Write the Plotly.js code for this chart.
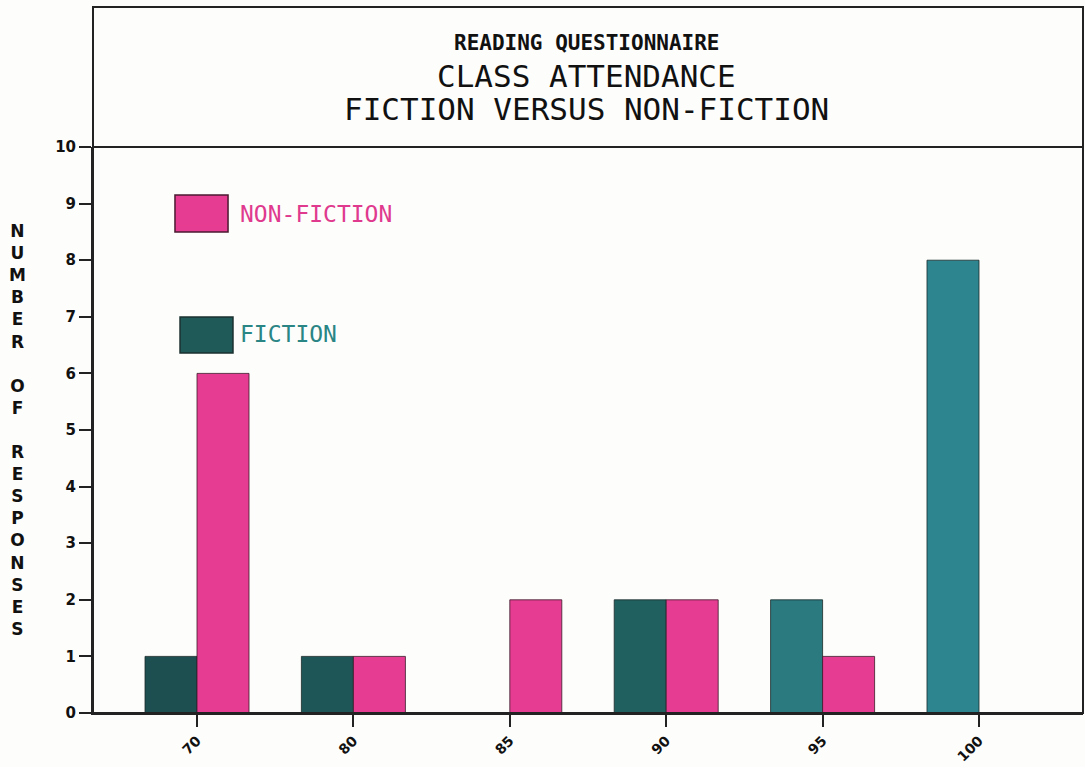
<!DOCTYPE html>
<html>
<head>
<meta charset="utf-8">
<script src="https://cdn.plot.ly/plotly-3.0.1.min.js"></script>
<style>html,body{margin:0;padding:0;background:#fdfdfb;}#chart{width:1085px;height:767px;}</style>
</head>
<body>
<div id="chart"></div>
<script>
const categories = ["70", "80", "85", "90", "95", "100"];
const fiction = [1, 1, 0, 2, 2, 8];
const nonFiction = [6, 1, 2, 2, 1, 0];
const yTicks = [0, 1, 2, 3, 4, 5, 6, 7, 8, 9, 10];
const titleLines = ["READING QUESTIONNAIRE", "CLASS ATTENDANCE", "FICTION VERSUS NON-FICTION"];
const yTitle = "NUMBER OF RESPONSES";

const fictionColors = ["#1d4f51", "#1e5557", "#1f5c5e", "#20605f", "#2a7a80", "#2d8590"];
const pink = "#e63d92";
const mono = "DejaVu Sans Mono, Liberation Mono, monospace";

const traces = [
  {type: "bar", name: "FICTION", x: categories, y: fiction,
   marker: {color: fictionColors, line: {color: "#1a2a2a", width: 0.8}}},
  {type: "bar", name: "NON-FICTION", x: categories, y: nonFiction,
   marker: {color: pink, line: {color: "#3a1a2a", width: 0.8}}}
];

const layout = {
  width: 1085, height: 767,
  margin: {l: 93, r: 2, t: 147, b: 54},
  paper_bgcolor: "#fdfdfb", plot_bgcolor: "#fdfdfb",
  showlegend: false,
  barmode: "group", bargap: 0.335, bargroupgap: 0,
  xaxis: {
    type: "category", range: [-0.665, 5.665],
    showgrid: false, zeroline: false, showline: true, linecolor: "#222", linewidth: 2,
    ticks: "outside", ticklen: 12, tickcolor: "#222", tickwidth: 2,
    tickangle: -45,
    tickfont: {family: "DejaVu Sans, sans-serif", size: 14, color: "#111", weight: "bold"}
  },
  yaxis: {
    range: [0, 10], tickvals: yTicks, ticktext: yTicks.map(String),
    showgrid: false, zeroline: false, showline: true, linecolor: "#222", linewidth: 2,
    ticks: "outside", ticklen: 12, tickcolor: "#222", tickwidth: 2,
    tickfont: {family: "DejaVu Sans, sans-serif", size: 15, color: "#111", weight: "bold"}
  },
  shapes: [
    {type: "rect", xref: "paper", yref: "paper", x0: 0, x1: 1, y0: 0, y1: 1.2474,
     line: {color: "#222", width: 2}, fillcolor: "rgba(0,0,0,0)"},
    {type: "line", xref: "paper", yref: "paper", x0: 0, x1: 1, y0: 1, y1: 1,
     line: {color: "#222", width: 2}},
    {type: "rect", xref: "paper", yref: "paper", x0: 0.0828, x1: 0.1364, y0: 0.850, y1: 0.915,
     line: {color: "#4a1a30", width: 1.5}, fillcolor: pink},
    {type: "rect", xref: "paper", yref: "paper", x0: 0.0879, x1: 0.1414, y0: 0.636, y1: 0.6996,
     line: {color: "#1a3030", width: 1.5}, fillcolor: "#1f5a58"}
  ],
  annotations: [
    {xref: "paper", yref: "paper", x: 0.4985, y: 1.184, text: titleLines[0], showarrow: false,
     xanchor: "center", yanchor: "middle",
     font: {family: mono, size: 21, color: "#111", weight: "bold"}},
    {xref: "paper", yref: "paper", x: 0.4985, y: 1.1254, text: titleLines[1], showarrow: false,
     xanchor: "center", yanchor: "middle",
     font: {family: mono, size: 31, color: "#111"}},
    {xref: "paper", yref: "paper", x: 0.4985, y: 1.0671, text: titleLines[2], showarrow: false,
     xanchor: "center", yanchor: "middle",
     font: {family: mono, size: 31, color: "#111"}},
    {xref: "paper", yref: "paper", x: 0.1465, y: 0.882, text: "NON-FICTION", showarrow: false,
     xanchor: "left", yanchor: "middle",
     font: {family: mono, size: 23, color: "#df3a8e"}},
    {xref: "paper", yref: "paper", x: 0.1465, y: 0.669, text: "FICTION", showarrow: false,
     xanchor: "left", yanchor: "middle",
     font: {family: mono, size: 23, color: "#2a8585"}},
    {xref: "paper", yref: "paper", x: -0.076, y: 0.5, text: yTitle.split("").join("<br>"), showarrow: false,
     xanchor: "center", yanchor: "middle",
     font: {family: "DejaVu Sans, sans-serif", size: 17, color: "#111", weight: "bold"}}
  ]
};

Plotly.newPlot("chart", traces, layout, {displayModeBar: false, staticPlot: true});
</script>
</body>
</html>
